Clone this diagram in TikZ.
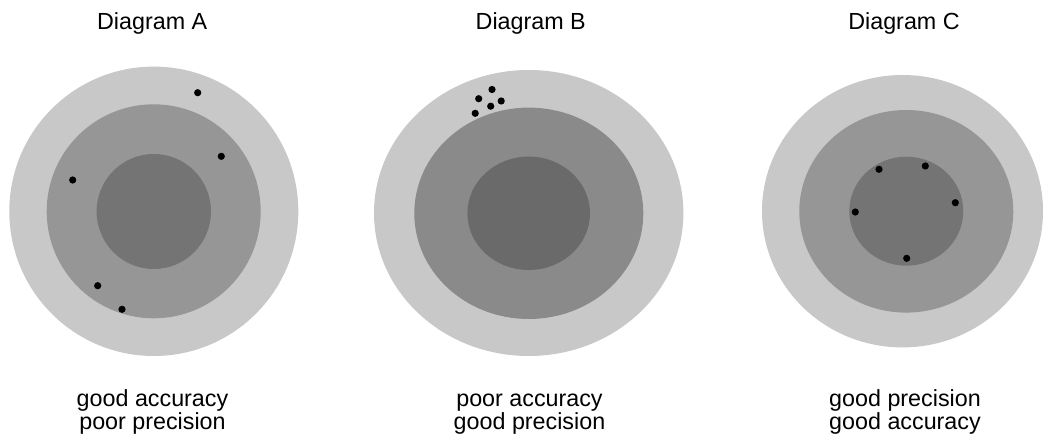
\documentclass[tikz,border=0pt]{standalone}
\usepackage{fontspec}
\setmainfont{Liberation Sans}
\definecolor{ringout}{RGB}{200,200,200}
\definecolor{ringmidA}{RGB}{150,150,150}
\definecolor{ringinA}{RGB}{116,116,116}
\definecolor{ringmidB}{RGB}{138,138,138}
\definecolor{ringinB}{RGB}{106,106,106}
\tikzset{
  lbl/.style={anchor=base, inner sep=0pt, font=\fontsize{23.3}{26}\selectfont},
  dot/.style={fill=black}
}
\begin{document}
\begin{tikzpicture}[x=1pt,y=-1pt]
\useasboundingbox[fill=white] (0,0) rectangle (1043,444);
% Diagram A
\fill[ringout] (153.8,211.3) ellipse [x radius=144.5, y radius=144.7];
\fill[ringmidA] (153.7,211.3) ellipse [x radius=107, y radius=107];
\fill[ringinA] (153.8,211.5) ellipse [x radius=57.2, y radius=57.5];
\foreach \p in {(197.7,92.7),(221.3,156.3),(72.7,180),(97.7,285.7),(122,309.3)}
  \fill[dot] \p circle [radius=3.6];
% Diagram B
\fill[ringout] (528.7,213) ellipse [x radius=154.7, y radius=143];
\fill[ringmidB] (528.8,213.3) ellipse [x radius=114.5, y radius=105.7];
\fill[ringinB] (528.7,213.3) ellipse [x radius=61.3, y radius=56.7];
\foreach \p in {(492,89.5),(478.7,98.7),(501.2,101),(490.7,106.2),(475.2,113.3)}
  \fill[dot] \p circle [radius=3.6];
% Diagram C
\fill[ringout] (902.5,211.2) ellipse [x radius=140.5, y radius=136.2];
\fill[ringmidA] (906.3,211.3) ellipse [x radius=107, y radius=101.3];
\fill[ringinA] (906.3,211.2) ellipse [x radius=57, y radius=54.5];
\foreach \p in {(879,169.3),(925.3,166),(955.3,202.7),(855.3,212),(906.7,258.3)}
  \fill[dot] \p circle [radius=3.6];
% Titles
\node[lbl] (tA) at (152.2,29.3) {Diagram A};
\node[lbl] (tB) at (530.7,29.3) {Diagram B};
\node[lbl] (tC) at (904,29.3) {Diagram C};
% Captions
\node[lbl] (cA1) at (152.5,406) {good accuracy};
\node[lbl] (cA2) at (152.5,429.3) {poor precision};
\node[lbl] (cB1) at (529.5,406) {poor accuracy};
\node[lbl] (cB2) at (529.5,429.3) {good precision};
\node[lbl] (cC1) at (905,406) {good precision};
\node[lbl] (cC2) at (905,429.3) {good accuracy};
\end{tikzpicture}
\end{document}
